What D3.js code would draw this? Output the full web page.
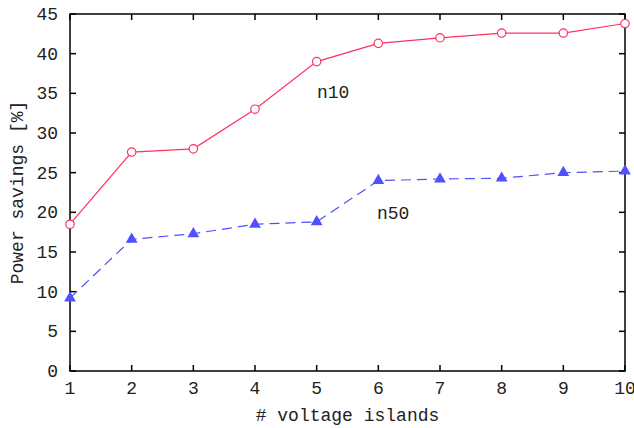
<!doctype html>
<html>
<head>
    <meta charset="utf-8"/>
    <style>
        html, body { margin: 0; padding: 0; background: #fff; }
        svg text { font-family: "Liberation Mono", "DejaVu Sans Mono", monospace; font-size: 18px; fill: #222; }
    </style>
    <script src="https://d3js.org/d3.v7.min.js"></script>
</head>
<body>
<svg width="634" height="428"></svg>
<script>
    // Chart data
    var islands = [1, 2, 3, 4, 5, 6, 7, 8, 9, 10];
    var n10 = [18.5, 27.6, 28.0, 33.0, 39.0, 41.3, 42.0, 42.6, 42.6, 43.8];
    var n50 = [9.2, 16.6, 17.3, 18.5, 18.8, 24.0, 24.2, 24.3, 25.0, 25.2];
    var yTicks = [0, 5, 10, 15, 20, 25, 30, 35, 40, 45];

    var svg = d3.select("svg");
    var mLeft = 70, mRight = 625, mTop = 14, mBottom = 371;

    var x = d3.scaleLinear().domain([1, 10]).range([mLeft, mRight]);
    var y = d3.scaleLinear().domain([0, 45]).range([mBottom, mTop]);

    // ticks, inward on all four sides
    var tickLen = 6;
    var g = svg.append("g");
    islands.forEach(function(v) {
        g.append("line").attr("x1", x(v)).attr("x2", x(v)).attr("y1", mBottom).attr("y2", mBottom - tickLen)
            .attr("stroke", "#000").attr("stroke-width", 1.5);
        g.append("line").attr("x1", x(v)).attr("x2", x(v)).attr("y1", mTop).attr("y2", mTop + tickLen)
            .attr("stroke", "#000").attr("stroke-width", 1.5);
        g.append("text").attr("x", x(v)).attr("y", mBottom + 23).attr("text-anchor", "middle").text(v);
    });
    yTicks.forEach(function(v) {
        g.append("line").attr("x1", mLeft).attr("x2", mLeft + tickLen).attr("y1", y(v)).attr("y2", y(v))
            .attr("stroke", "#000").attr("stroke-width", 1.5);
        g.append("line").attr("x1", mRight).attr("x2", mRight - tickLen).attr("y1", y(v)).attr("y2", y(v))
            .attr("stroke", "#000").attr("stroke-width", 1.5);
        g.append("text").attr("x", mLeft - 12).attr("y", y(v) + 6).attr("text-anchor", "end").text(v);
    });

    // frame
    svg.append("rect").attr("x", mLeft).attr("y", mTop).attr("width", mRight - mLeft).attr("height", mBottom - mTop)
        .attr("fill", "none").attr("stroke", "#000").attr("stroke-width", 1.5);

    var line = d3.line().x(function(d, i) { return x(islands[i]); }).y(function(d) { return y(d); });

    // n10 series
    svg.append("path").datum(n10).attr("d", line)
        .attr("fill", "none").attr("stroke", "#ff3060").attr("stroke-width", 1.2);
    svg.selectAll(".p10").data(n10).enter().append("circle")
        .attr("cx", function(d, i) { return x(islands[i]); })
        .attr("cy", function(d) { return y(d); })
        .attr("r", 4.2)
        .attr("fill", "#fff").attr("stroke", "#ff3060").attr("stroke-width", 1.2);

    // n50 series
    svg.append("path").datum(n50).attr("d", line)
        .attr("fill", "none").attr("stroke", "#5050ff").attr("stroke-width", 1.2)
        .attr("stroke-dasharray", "10,6");
    var tri = d3.symbol().type(d3.symbolTriangle).size(60);
    svg.selectAll(".p50").data(n50).enter().append("path")
        .attr("d", tri)
        .attr("transform", function(d, i) { return "translate(" + x(islands[i]) + "," + y(d) + ")"; })
        .attr("fill", "#5050ff");

    // series labels
    svg.append("text").attr("x", 317).attr("y", 98).text("n10");
    svg.append("text").attr("x", 377).attr("y", 219).text("n50");

    // axis titles
    svg.append("text").attr("x", (mLeft + mRight) / 2).attr("y", 421).attr("text-anchor", "middle").text("# voltage islands");
    svg.append("text").attr("transform", "translate(23," + ((mTop + mBottom) / 2) + ") rotate(-90)")
        .attr("text-anchor", "middle").text("Power savings [%]");
</script>
</body>
</html>
